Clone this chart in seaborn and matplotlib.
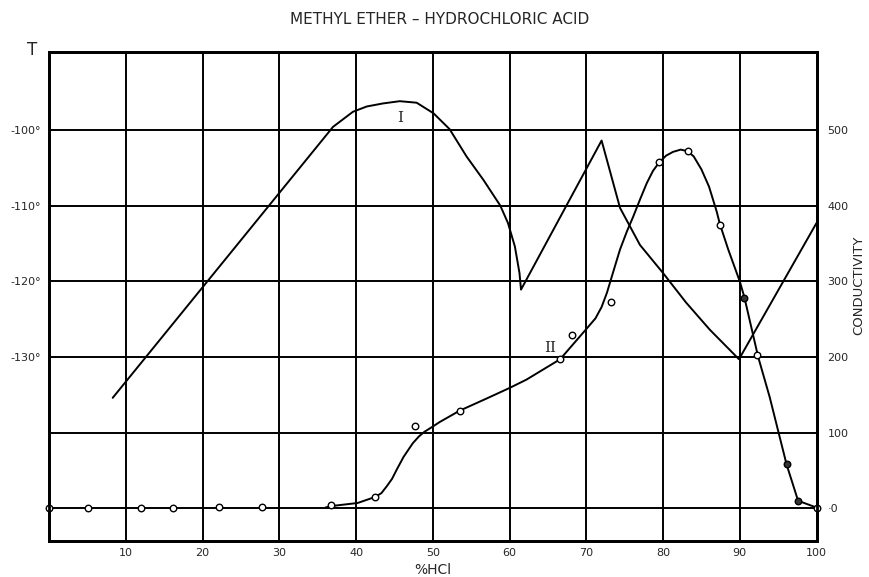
import matplotlib
matplotlib.use("Agg")
import matplotlib.pyplot as plt
import seaborn as sns
import pandas as pd

# ---- data ----
# Curve I: freezing-point temperature (deg) vs % HCl
pct_I = [8.3, 37.0, 39.6, 41.4, 43.5, 45.7, 47.9, 50.1, 52.2, 54.4, 56.6, 58.8,
         59.8, 60.7, 61.3, 61.5,
         72.0, 74.4, 77.0, 80.0, 83.0, 86.1, 89.9, 100.0]
temp_I = [-135.4, -99.6, -97.6, -96.9, -96.5, -96.2, -96.4, -97.8, -99.9, -103.5, -106.6, -110.0,
          -112.3, -115.4, -118.9, -121.1,
          -101.4, -110.3, -115.2, -118.9, -122.8, -126.4, -130.3, -112.3]

# Curve II: conductivity, drawn curve
pct_II_line = [36.0, 36.8, 40.2, 42.5, 43.3, 44.0, 44.7, 45.3, 46.2, 47.4, 48.2, 48.9,
               50.0, 50.9, 53.5, 57.0, 60.0, 62.2, 66.6, 70.1, 71.2, 72.0, 72.7, 73.5,
               74.4, 75.3, 76.1, 77.0, 77.9, 78.7, 79.5, 80.4, 81.3, 82.3, 83.2, 84.0,
               85.0, 86.0, 87.0, 87.4, 88.5, 90.0, 90.6, 92.4, 93.9, 96.1, 97.6, 100.0]
cond_II_line = [1, 3, 7, 15, 20, 29, 39, 51, 68, 86, 95, 101,
                108, 114, 129, 145, 159, 170, 197, 238, 251, 266, 285, 312,
                342, 366, 385, 408, 430, 446, 457, 466, 471, 474, 472, 465,
                448, 425, 392, 376, 342, 300, 279, 200, 147, 58, 10, 1]

# Curve II: measured points (circles)
pct_II_pts = [0, 5.1, 12.0, 16.1, 22.2, 27.7, 36.8, 42.5, 47.7, 53.5, 66.6, 68.1,
              73.2, 79.5, 83.2, 87.4, 90.6, 92.2, 96.1, 97.6, 100]
cond_II_pts = [0, 0, 0, 0, 2, 2, 5, 15, 109, 129, 197, 229,
               273, 457, 472, 374, 278, 203, 58, 10, 1]
filled_II = [False, False, False, False, False, False, False, False, False, False, False, False,
             False, False, False, False, True, False, True, True, False]

x_ticks = [10, 20, 30, 40, 50, 60, 70, 80, 90, 100]
cond_ticks = [0, 100, 200, 300, 400, 500]
cond_tick_labels = ["·0", "100", "200", "300", "400", "500"]
temp_ticks = [-130, -120, -110, -100]
temp_tick_labels = ["-130°", "-120°", "-110°", "-100°"]

title = "METHYL ETHER – HYDROCHLORIC ACID"

# ---- plotting ----
sns.set_theme(style="white")
plt.rcParams["font.family"] = ["DejaVu Sans"]

fig = plt.figure(figsize=(8.69, 5.77), dpi=100)
ax2 = fig.add_axes([49 / 869, 1 - 540.7 / 577, (816.5 - 49) / 869, (540.7 - 52) / 577])
ax = ax2.twinx()

cond_lo, cond_hi = -42.8, 603
ax2.set_ylim(cond_lo, cond_hi)
ax.set_ylim(cond_lo / 10 - 150, cond_hi / 10 - 150)
ax2.set_xlim(0, 100)

# grid
for gx in x_ticks[:-1]:
    ax2.axvline(gx, color="black", lw=1.4, zorder=1)
for gy in cond_ticks:
    ax2.axhline(gy, color="black", lw=1.4, zorder=1)

dfI = pd.DataFrame({"pct": pct_I, "T": temp_I})
sns.lineplot(data=dfI, x="pct", y="T", sort=False, ax=ax, color="black", lw=1.4,
             estimator=None)

dfL = pd.DataFrame({"pct": pct_II_line, "c": cond_II_line})
sns.lineplot(data=dfL, x="pct", y="c", sort=False, ax=ax2, color="black", lw=1.4,
             estimator=None, zorder=3)

dfP = pd.DataFrame({"pct": pct_II_pts, "c": cond_II_pts, "f": filled_II})
open_pts = dfP[~dfP["f"]]
fill_pts = dfP[dfP["f"]]
sns.scatterplot(data=open_pts, x="pct", y="c", ax=ax2, s=22, facecolor="white",
                edgecolor="black", linewidth=1.0, zorder=4, clip_on=False)
sns.scatterplot(data=fill_pts, x="pct", y="c", ax=ax2, s=22, facecolor="#333333",
                edgecolor="black", linewidth=1.0, zorder=4, clip_on=False)

# labels on curves
ax2.text(45.7, 516, "I", fontsize=11, family="DejaVu Serif", ha="center", va="center")
ax2.text(65.3, 212, "II", fontsize=11, family="DejaVu Serif", ha="center", va="center")

# axes styling
for a in (ax, ax2):
    for sp in a.spines.values():
        sp.set_color("black")
        sp.set_linewidth(2.0)

ax2.set_xticks(x_ticks)
ax2.set_xticklabels([str(v) for v in x_ticks], fontsize=8)
ax2.tick_params(axis="x", length=0, pad=5)
ax2.yaxis.tick_right()
ax2.set_yticks(cond_ticks)
ax2.set_yticklabels(cond_tick_labels, fontsize=8)
ax2.tick_params(axis="y", length=0, pad=8, right=True, left=False,
                labelright=True, labelleft=False)
ax2.set_xlabel("%HCl", fontsize=10, labelpad=4)
ax2.set_ylabel("")

ax.yaxis.tick_left()
ax.set_yticks(temp_ticks)
ax.set_yticklabels(temp_tick_labels, fontsize=8)
ax.tick_params(axis="y", length=0, pad=6, left=True, right=False,
               labelleft=True, labelright=False)
ax.set_ylabel("")
ax.set_xlabel("")

fig.text(859 / 869, 1 - 285 / 577, "CONDUCTIVITY", rotation=90, fontsize=9.5,
         ha="center", va="center")
fig.text(32 / 869, 1 - 50 / 577, "T", fontsize=12, ha="center", va="center")
fig.text(440 / 869, 1 - 20 / 577, title, fontsize=11, ha="center", va="center")

fig.savefig("out.png", dpi=100)
